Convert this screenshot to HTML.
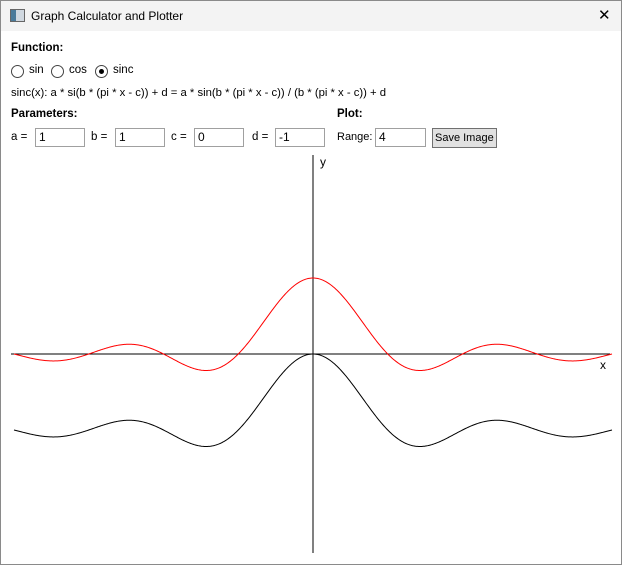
<!DOCTYPE html>
<html><head><meta charset="utf-8"><style>
body{margin:0;width:622px;height:565px;overflow:hidden;font-family:"Liberation Sans",sans-serif;font-size:11.5px;color:#000;background:#fff}
.win{position:absolute;left:0;top:0;width:620px;height:563px;border:1px solid #8a8a8a;background:#fff}
.title{position:absolute;left:0;top:0;width:620px;height:30px;background:#f3f3f3}
.t{position:absolute;white-space:nowrap}
.box{position:absolute;height:19px;border:1px solid #a0a0a0;box-sizing:border-box;font-size:12px;padding-left:3px;line-height:17px;background:#fff;white-space:nowrap;overflow:hidden}
.radio{position:absolute;width:13px;height:13px;border:1px solid #444;border-radius:50%;box-sizing:border-box}
</style></head><body>
<div class="win">
<div class="title">
 <div class="t" style="left:9px;top:8px;width:13px;height:11px;border:1px solid #666;background:linear-gradient(90deg,#4a7a9a 40%,#d0d8e0 40%)"></div>
 <div class="t" style="left:30px;top:8px;font-size:12px">Graph Calculator and Plotter</div>
 <div class="t" style="left:597px;top:5px;font-size:15px">✕</div>
</div>
<div class="t" style="left:10px;top:41px;font-weight:bold">Function:</div>
<div class="radio" style="left:10px;top:64px"></div>
<div class="t" style="left:28px;top:63px">sin</div>
<div class="radio" style="left:50px;top:64px"></div>
<div class="t" style="left:68px;top:63px">cos</div>
<div class="radio" style="left:94px;top:64px"><div style="position:absolute;left:3px;top:3px;width:5px;height:5px;border-radius:50%;background:#000"></div></div>
<div class="t" style="left:112px;top:63px">sinc</div>
<div class="t" style="left:10px;top:86px;font-size:11.3px">sinc(x): a * si(b * (pi * x - c)) + d = a * sin(b * (pi * x - c)) / (b * (pi * x - c)) + d</div>
<div class="t" style="left:10px;top:107px;font-weight:bold">Parameters:</div>
<div class="t" style="left:336px;top:107px;font-weight:bold">Plot:</div>
<div class="t" style="left:10px;top:130px">a =</div>
<div class="box" style="left:34px;top:127px;width:50px">1</div>
<div class="t" style="left:90px;top:130px">b =</div>
<div class="box" style="left:114px;top:127px;width:50px">1</div>
<div class="t" style="left:170px;top:130px">c =</div>
<div class="box" style="left:193px;top:127px;width:50px">0</div>
<div class="t" style="left:251px;top:130px">d =</div>
<div class="box" style="left:274px;top:127px;width:50px">-1</div>
<div class="t" style="left:336px;top:130px;font-size:11px">Range:</div>
<div class="box" style="left:374px;top:127px;width:51px">4</div>
<div class="box" style="left:431px;top:127px;width:65px;height:20px;background:#e1e1e1;border-color:#707070;padding-left:2px;line-height:18px;font-size:11px">Save Image</div>
<svg id="plot" class="t" style="left:-1px;top:-1px" width="622" height="565">
 <line x1="11" y1="354" x2="610" y2="354" stroke="#000"/>
 <line x1="313" y1="155" x2="313" y2="553" stroke="#000"/>
 <text x="320" y="166" font-size="12" font-family="Liberation Sans,sans-serif">y</text>
 <text x="600" y="369" font-size="12" font-family="Liberation Sans,sans-serif">x</text>
</svg>
</div>
<script>
const range = 4;
const params = [1, 1, 0, -1]; // a, b, c, d
const seriesOffsets = [0, -1]; // red: base sinc, black: with d
const seriesColors = ["#ff0000", "#000000"];
const seriesNames = ["sinc-base-curve", "sinc-shifted-curve"];
const cx = 313, cy = 354, sx = 299 / range, sy = 76;
function X(x){return cx + x * sx;}
function Y(y){return cy - y * sy;}
function f(x, a, b, c, d){const u = b * (Math.PI * x - c); return a * (Math.abs(u) < 1e-9 ? 1 : Math.sin(u) / u) + d;}
const svg = document.getElementById('plot');
seriesOffsets.forEach((off, i) => {
  let pts = [];
  for (let k = 0; k <= 600; k++) {
    const x = -range + 2 * range * k / 600;
    pts.push(X(x).toFixed(2) + "," + Y(f(x, params[0], params[1], params[2], off)).toFixed(2));
  }
  const p = document.createElementNS("http://www.w3.org/2000/svg", "polyline");
  p.setAttribute("points", pts.join(" "));
  p.setAttribute("fill", "none");
  p.setAttribute("stroke", seriesColors[i]);
  p.setAttribute("stroke-width", "1");
  
  
  svg.appendChild(p);
});
</script>
</body></html>
